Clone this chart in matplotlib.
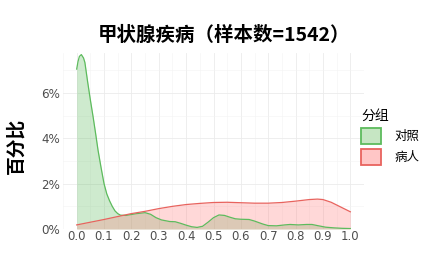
import matplotlib
matplotlib.use('Agg')
import matplotlib.pyplot as plt
from matplotlib.patches import Patch
from matplotlib.ticker import PercentFormatter, MultipleLocator

plt.rcParams['font.family'] = ['DejaVu Sans', 'Noto Sans CJK SC']

# 对照组密度曲线 (x, 百分比)
ctrl_x = [0.00, 0.005, 0.01, 0.017, 0.025, 0.03, 0.04, 0.05, 0.06, 0.07, 0.078, 0.09,
          0.10, 0.11, 0.12, 0.13, 0.14, 0.15, 0.16, 0.18, 0.20, 0.22, 0.25, 0.27,
          0.29, 0.31, 0.34, 0.36, 0.38, 0.40, 0.42, 0.44, 0.46, 0.48, 0.50, 0.52,
          0.54, 0.56, 0.58, 0.60, 0.63, 0.65, 0.68, 0.70, 0.73, 0.76, 0.78, 0.81,
          0.84, 0.86, 0.88, 0.91, 0.94, 0.97, 1.00]
ctrl_y = [7.06, 7.40, 7.62, 7.70, 7.55, 7.35, 6.50, 5.70, 4.95, 4.15, 3.48, 2.65,
          2.00, 1.55, 1.25, 1.00, 0.80, 0.68, 0.61, 0.60, 0.64, 0.68, 0.72, 0.65,
          0.50, 0.40, 0.33, 0.32, 0.25, 0.17, 0.10, 0.07, 0.12, 0.30, 0.50, 0.62,
          0.60, 0.52, 0.45, 0.43, 0.42, 0.35, 0.22, 0.15, 0.14, 0.18, 0.20, 0.18,
          0.20, 0.20, 0.15, 0.08, 0.05, 0.03, 0.02]

# 病人组密度曲线
case_x = [0.00, 0.05, 0.10, 0.15, 0.20, 0.25, 0.30, 0.35, 0.40, 0.45, 0.50, 0.55,
          0.60, 0.65, 0.70, 0.75, 0.80, 0.85, 0.88, 0.90, 0.93, 0.96, 1.00]
case_y = [0.18, 0.30, 0.42, 0.55, 0.68, 0.78, 0.90, 1.00, 1.08, 1.13, 1.17, 1.18,
          1.16, 1.14, 1.14, 1.17, 1.23, 1.30, 1.32, 1.30, 1.18, 1.00, 0.76]

groups = ['对照', '病人']
line_colors = ['#5DBB5D', '#E8635E']
fill_colors = ['#5DBB5D', '#FF7F7F']
key_colors = ['#C6E6C3', '#FFC6C6']

fig = plt.figure(figsize=(4.35, 2.61), dpi=100)
ax = fig.add_axes([63/435, 32/261, 301/435, 176/261])

for xs, ys, lc, fc in [(ctrl_x, ctrl_y, line_colors[0], fill_colors[0]),
                       (case_x, case_y, line_colors[1], fill_colors[1])]:
    yv = [v / 100 for v in ys]
    ax.fill_between(xs, 0, yv, color=fc, alpha=0.3, lw=0, zorder=2)
    ax.plot(xs, yv, color=lc, lw=0.9, zorder=3)

ax.set_xlim(-0.05, 1.05)
ax.set_ylim(0, 0.0777)
ax.xaxis.set_major_locator(MultipleLocator(0.1))
ax.xaxis.set_minor_locator(MultipleLocator(0.05))
ax.yaxis.set_major_locator(MultipleLocator(0.02))
ax.yaxis.set_minor_locator(MultipleLocator(0.01))
ax.yaxis.set_major_formatter(PercentFormatter(1.0, decimals=0))
ax.xaxis.set_major_formatter(lambda v, p: f'{v:.1f}')
ax.grid(which='major', color='#EBEBEB', lw=0.6, zorder=0)
ax.grid(which='minor', color='#F3F3F3', lw=0.4, zorder=0)
ax.set_axisbelow(True)
for s in ax.spines.values():
    s.set_visible(False)
ax.tick_params(which='both', length=0, labelsize=8.6, labelcolor='#4D4D4D', pad=2)
ax.tick_params(axis='x', labelsize=8.4, pad=1)

fig.text(224/435, 1 - 35/261, '甲状腺疾病（样本数=1542）', ha='center', va='center',
         fontsize=14, fontweight='bold', family=['Noto Sans CJK SC'])
fig.text(16/435, 1 - 146/261, '百分比', ha='center', va='center', rotation=90,
         fontsize=13.5, fontweight='bold', family=['Noto Sans CJK SC'])

handles = [Patch(facecolor=key_colors[i], edgecolor=line_colors[i], lw=1.3)
           for i in range(2)]
leg = fig.legend(handles, groups, loc='upper left', bbox_to_anchor=(361/435, 1 - 109/261),
                 frameon=False, title='分组', title_fontsize=10,
                 handlelength=1.6, handleheight=1.6, labelspacing=0.4,
                 handletextpad=1.05, borderpad=0, borderaxespad=0,
                 prop={'family': ['Noto Sans CJK SC'], 'size': 9})
leg.get_title().set_family(['Noto Sans CJK SC'])
leg._legend_box.align = 'left'

fig.savefig('out.png', dpi=100)
